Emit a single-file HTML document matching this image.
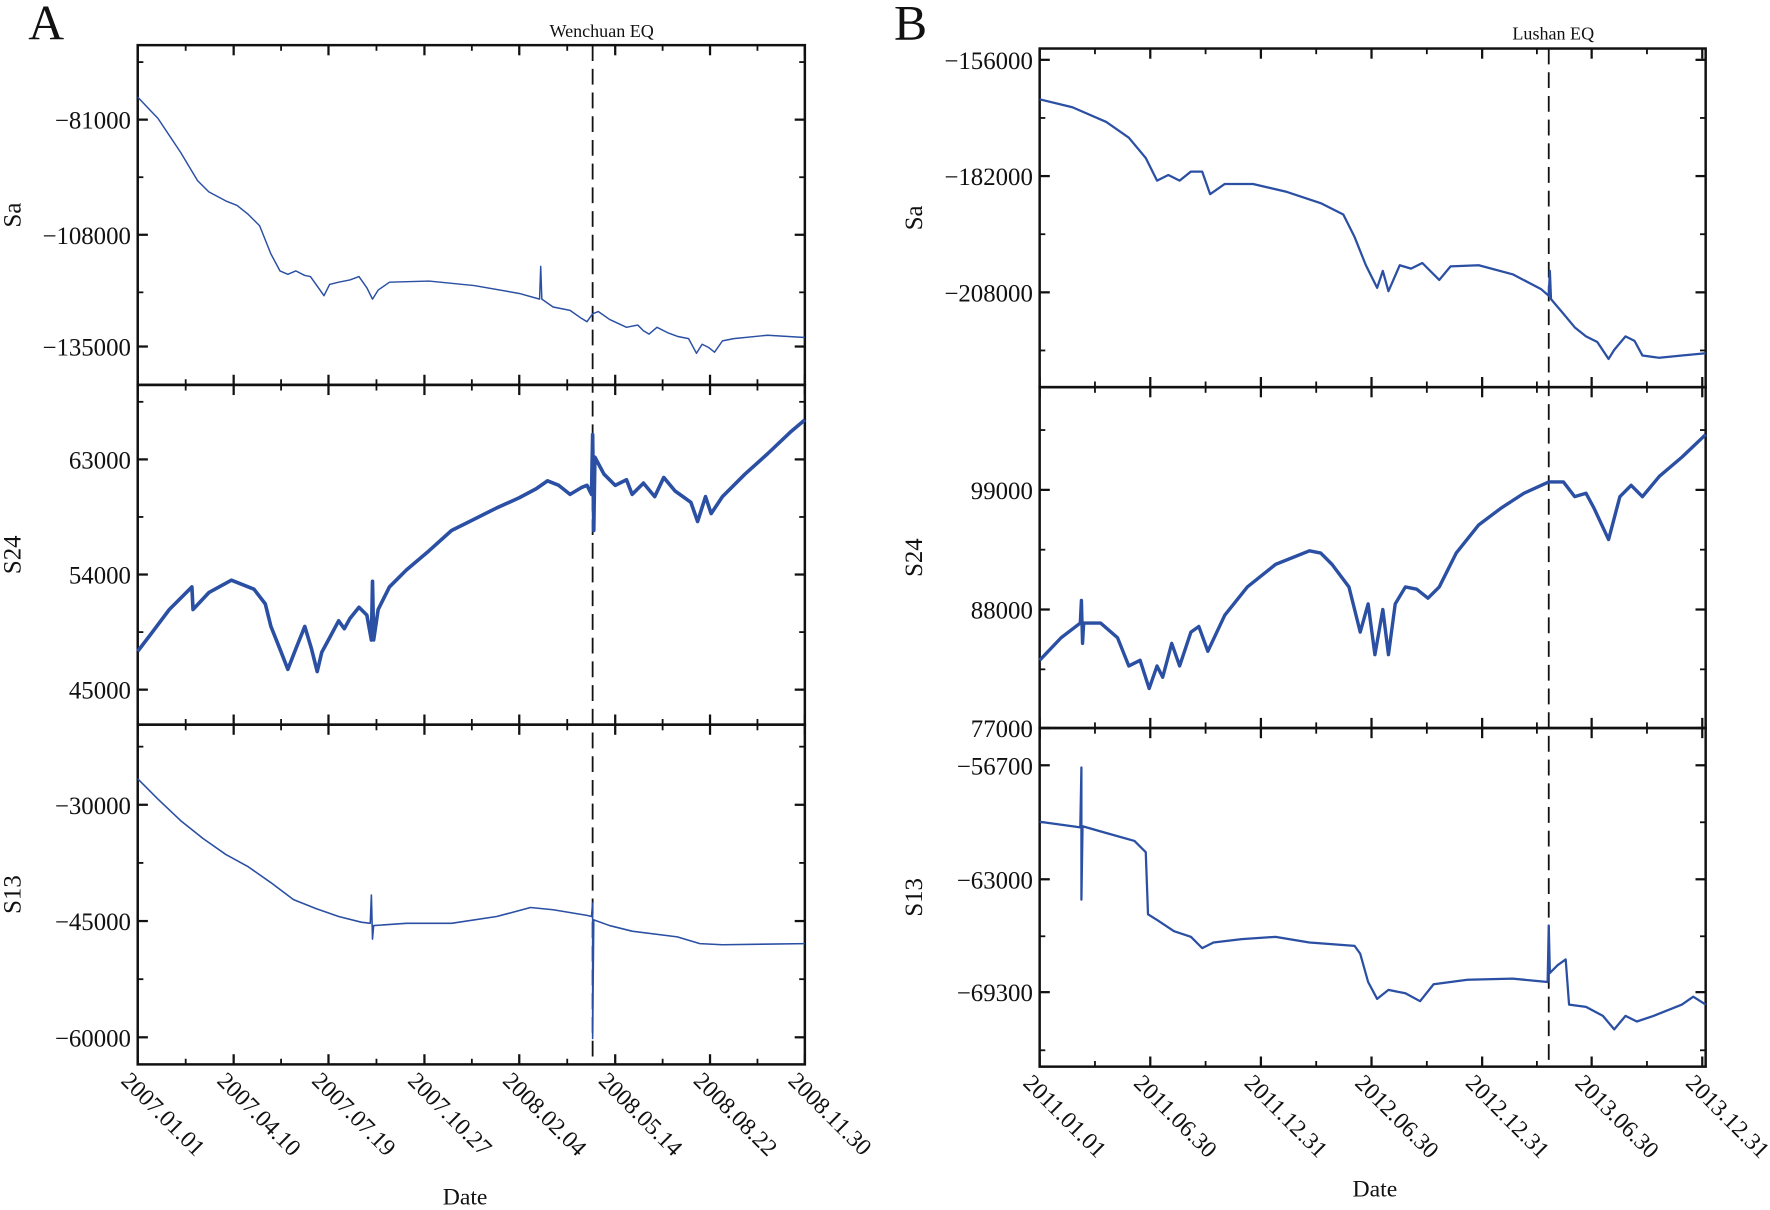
<!DOCTYPE html>
<html><head><meta charset="utf-8"><style>
html,body{margin:0;padding:0;background:#fff;}
svg{display:block;}
text{font-family:"Liberation Serif",serif;fill:#111;}
</style></head><body>
<svg id="s" width="1770" height="1210" viewBox="0 0 1568 1072" preserveAspectRatio="none" xmlns="http://www.w3.org/2000/svg">
<g id="g"></g>
<text x="25" y="35" font-size="44">A</text>
<text x="792" y="35" font-size="44">B</text>
<text x="533" y="33" font-size="16" text-anchor="middle">Wenchuan EQ</text>
<text x="1376" y="35" font-size="16" text-anchor="middle">Lushan EQ</text>
<text x="412" y="1067" font-size="21" text-anchor="middle">Date</text>
<text x="1218" y="1060" font-size="21" text-anchor="middle">Date</text>
</svg>
<script>
var g=document.getElementById('g'),h='';
function L(x1,y1,x2,y2,w,extra){h+='<line x1="'+x1+'" y1="'+y1+'" x2="'+x2+'" y2="'+y2+'" stroke="#111" stroke-width="'+w+'" '+(extra||'')+'/>';}
function T(x,y,s,a,sz,extra){h+='<text x="'+x+'" y="'+y+'" font-size="'+(sz||20)+'" text-anchor="'+(a||'end')+'" '+(extra||'')+'>'+s+'</text>';}
function P(pts,w){var s=pts.map(function(p){return p[0]+','+p[1]}).join(' ');h+='<polyline points="'+s+'" fill="none" stroke="#2a4fa3" stroke-width="'+w+'" stroke-linejoin="round"/>';}
function panel(x0,x1,ys,xt,xl,eq,yt){
  for(var i=0;i<3;i++){h+='<rect x="'+x0+'" y="'+ys[i]+'" width="'+(x1-x0)+'" height="'+(ys[i+1]-ys[i])+'" fill="none" stroke="#111" stroke-width="2.2"/>';
    for(var k=0;k<xt.length;k++){var x=xt[k];L(x,ys[i],x,ys[i]+9,2);L(x,ys[i+1],x,ys[i+1]-9,2);
      if(k<xt.length-1){var m=(xt[k]+xt[k+1])/2;L(m,ys[i],m,ys[i]+5,1.6);L(m,ys[i+1],m,ys[i+1]-5,1.6);}}
    var yy=yt[i];
    for(var k=0;k<yy.v.length;k++){var y=yy.v[k];L(x0,y,x0+9,y,2);L(x1,y,x1-9,y,2);T(x0-6,y+8,yy.l[k],'end',22);}
    var d=yy.v[1]-yy.v[0];
    for(var y=yy.v[0]-d/2;y<ys[i+1];y+=d){if(y>ys[i]+2&&y<ys[i+1]-2){L(x0,y,x0+5,y,1.6);L(x1,y,x1-5,y,1.6);}}
    T(x0-104,(ys[i]+ys[i+1])/2,yy.n,'middle',22,'transform="rotate(-90 '+(x0-104)+' '+((ys[i]+ys[i+1])/2)+')"');
  }
  L(eq,ys[0],eq,ys[3],1.6,'stroke-dasharray="14,7"');
  for(var k=0;k<xt.length;k++){var x=xt[k]-10,y=ys[3]+10;T(x,y+8,xl[k],'start',21,'transform="rotate(45 '+x+' '+y+')"');}
}
panel(122,713,[40,341,642,943],[122,207,291,376,460,545,629,713],['2007.01.01','2007.04.10','2007.07.19','2007.10.27','2008.02.04','2008.05.14','2008.08.22','2008.11.30'],525,
 [{n:'Sa',v:[106,208,307],l:['−81000','−108000','−135000']},{n:'S24',v:[407,509,611],l:['63000','54000','45000']},{n:'S13',v:[713,816,919],l:['−30000','−45000','−60000']}]);
panel(921,1511,[43,343,645,945],[921,1019,1117,1215,1313,1410,1508],['2011.01.01','2011.06.30','2011.12.31','2012.06.30','2012.12.31','2013.06.30','2013.12.31'],1372,
 [{n:'Sa',v:[53,156,259],l:['−156000','−182000','−208000']},{n:'S24',v:[434,540,645],l:['99000','88000','77000']},{n:'S13',v:[678,779,879],l:['−56700','−63000','−69300']}]);
P([[122,86],[140,105],[160,135],[175,160],[185,170],[200,178],[210,182],[220,190],[230,200],[240,225],[248,240],[255,243],[262,240],[270,244],[275,245],[280,252],[287,262],[292,252],[300,250],[310,248],[318,245],[325,255],[330,265],[335,257],[345,250],[380,249],[420,253],[460,260],[478,265],[479,236],[480,265],[490,272],[505,275],[515,282],[520,285],[525,278],[530,276],[540,283],[555,290],[565,288],[570,293],[575,296],[582,290],[592,295],[600,298],[610,300],[617,313],[622,305],[628,308],[633,312],[640,302],[650,300],[680,297],[713,299]],1.3);
P([[122,577],[135,560],[150,540],[170,520],[171,540],[185,525],[205,514],[225,522],[235,535],[240,555],[248,575],[255,593],[262,575],[270,555],[276,575],[281,595],[285,578],[292,565],[300,550],[305,557],[310,548],[318,538],[325,545],[329,567],[330,515],[331,567],[335,540],[345,520],[360,505],[380,488],[400,470],[420,460],[440,450],[460,441],[475,433],[485,426],[495,430],[505,438],[515,432],[520,430],[524,438],[525,385],[526,470],[527,405],[535,420],[545,430],[555,425],[560,438],[570,428],[580,440],[588,423],[598,435],[605,440],[612,445],[618,462],[625,440],[630,455],[640,440],[660,420],[680,402],[700,383],[713,372]],3.2);
P([[122,690],[140,708],[160,727],[180,743],[200,757],[220,768],[240,782],[260,797],[280,805],[300,812],[320,817],[328,818],[329,793],[330,832],[331,820],[360,818],[400,818],[440,812],[470,804],[490,806],[520,811],[524,812],[525,800],[525,920],[526,815],[540,820],[560,825],[600,830],[620,836],[640,837],[713,836]],1.4);
P([[921,88],[950,95],[980,108],[1000,122],[1015,140],[1025,160],[1035,155],[1045,160],[1055,152],[1065,152],[1072,172],[1085,163],[1110,163],[1140,170],[1170,180],[1190,190],[1200,210],[1210,235],[1220,255],[1225,240],[1230,258],[1240,235],[1250,238],[1260,233],[1275,248],[1285,236],[1310,235],[1340,243],[1365,256],[1372,262],[1373,240],[1374,265],[1385,278],[1395,290],[1405,298],[1415,303],[1425,318],[1430,310],[1440,298],[1448,302],[1455,315],[1470,317],[1490,315],[1511,313]],2);
P([[921,585],[940,565],[957,552],[958,532],[959,570],[960,552],[975,552],[990,565],[1000,590],[1010,585],[1018,610],[1025,590],[1030,600],[1038,570],[1045,590],[1055,560],[1062,555],[1070,577],[1085,545],[1105,520],[1130,500],[1160,488],[1170,490],[1180,500],[1195,520],[1205,560],[1212,535],[1218,580],[1225,540],[1230,580],[1236,535],[1245,520],[1255,522],[1265,530],[1275,520],[1290,490],[1310,465],[1330,450],[1350,437],[1372,427],[1385,427],[1395,440],[1405,437],[1412,450],[1425,478],[1435,440],[1445,430],[1455,440],[1470,422],[1490,405],[1511,385]],3);
P([[921,728],[950,732],[957,733],[958,680],[958,797],[959,732],[980,738],[1005,745],[1015,755],[1017,810],[1025,815],[1040,825],[1055,830],[1065,840],[1075,835],[1100,832],[1130,830],[1160,835],[1200,838],[1205,845],[1212,870],[1220,885],[1230,877],[1245,880],[1258,887],[1270,872],[1300,868],[1340,867],[1371,870],[1372,820],[1373,862],[1380,855],[1387,850],[1390,890],[1405,892],[1420,900],[1430,912],[1440,900],[1450,905],[1465,900],[1490,890],[1500,883],[1511,890]],2);
g.innerHTML=h;
</script>
</body></html>
